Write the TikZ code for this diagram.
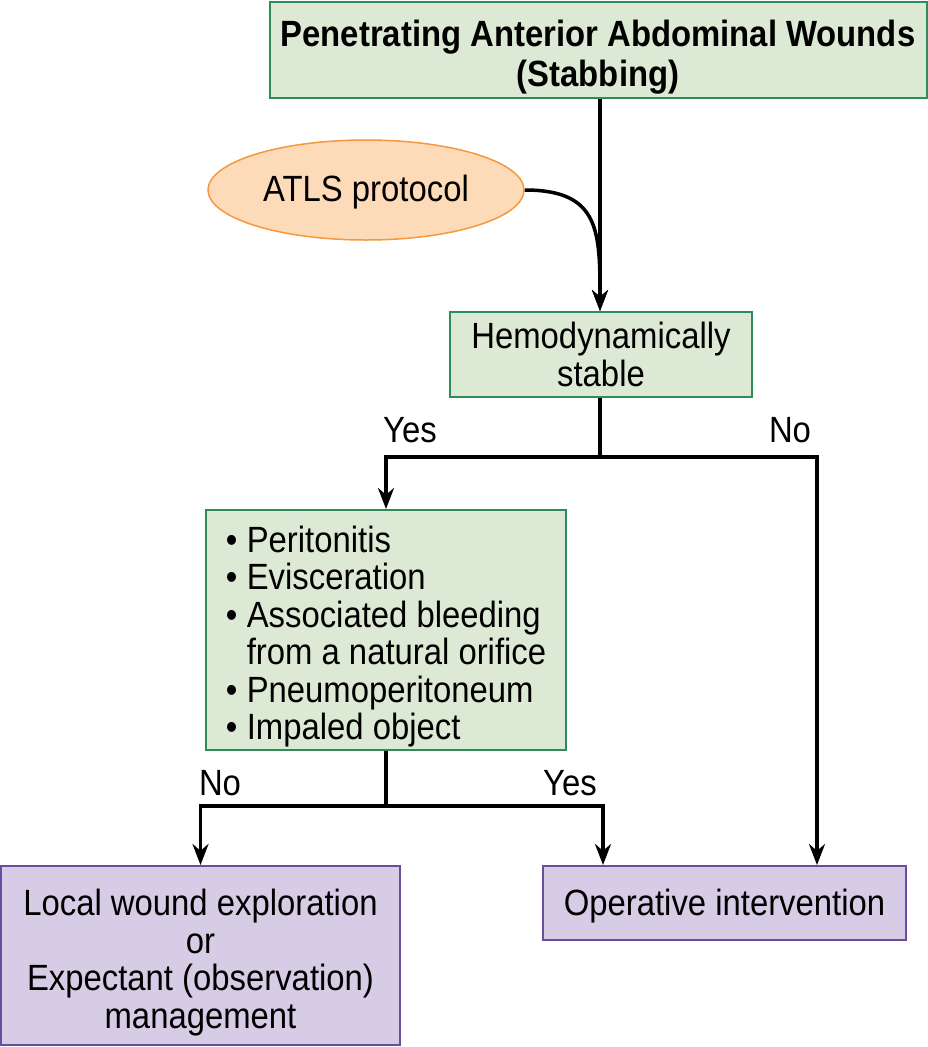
\documentclass[tikz,border=0pt]{standalone}
\usepackage{fontspec}
\setmainfont{Liberation Sans}[FakeStretch=0.9]
\usetikzlibrary{positioning}
\usetikzlibrary{arrows.meta}
\usetikzlibrary{shapes.geometric}
\definecolor{boxgreen}{RGB}{220,233,212}
\definecolor{edgegreen}{RGB}{46,140,90}
\definecolor{ovalfill}{RGB}{253,219,184}
\definecolor{ovaledge}{RGB}{245,152,62}
\definecolor{boxlilac}{RGB}{214,204,229}
\definecolor{edgelilac}{RGB}{105,78,160}
\newcommand{\itm}{\makebox[21pt][l]{\textbullet}}

\begin{document}
\begin{tikzpicture}[x=1pt, y=-1pt, every node/.style={font=\fontsize{36.5}{37.5}\selectfont},
    greenbox/.style={draw=edgegreen, fill=boxgreen, line width=2pt, inner sep=0pt, align=center},
    lilacbox/.style={draw=edgelilac, fill=boxlilac, line width=2pt, inner sep=0pt, align=center},
    link/.style={line width=3.5pt},
    conn/.style={line width=3.5pt, -{Stealth[length=21pt,width=16pt]}}]
    \useasboundingbox (0,0) rectangle (928,1047);

    \node[greenbox, minimum width=657pt, minimum height=96pt, font=\bfseries\fontsize{36.5}{37.5}\selectfont] (wounds) at (598,50) {\rule{0pt}{41pt}Penetrating Anterior Abdominal Wounds\\[2pt](Stabbing)};
    \node[ellipse, draw=ovaledge, fill=ovalfill, line width=1.5pt, minimum width=316pt, minimum height=100pt] (atls) at (366,190) {\rule{0pt}{30pt}ATLS protocol};
    \node[greenbox, minimum width=302pt, minimum height=85pt] (hemo) at (601,354.5) {Hemodynamically\\stable};
    \node[greenbox, minimum width=360pt, minimum height=240pt, align=left] (signs) at (386,630) {\rule{0pt}{40pt}\itm Peritonitis\\\itm Evisceration\\\itm Associated bleeding\\\hspace*{21pt}from a natural orifice\\\itm Pneumoperitoneum\\\itm Impaled object};
    \node[lilacbox, minimum width=399pt, minimum height=179pt] (local) at (200.5,955.5) {\rule{0pt}{41pt}Local wound exploration\\or\\Expectant (observation)\\management};
    \node[lilacbox, minimum width=363pt, minimum height=74pt] (oper) at (724.5,903) {\rule{0pt}{32pt}Operative intervention};

    \node (yes1) at (410,430) {Yes};
    \node (no1) at (790,430) {No};
    \node (no2) at (220,783) {No};
    \node (yes2) at (570,783) {Yes};

    \coordinate (split1) at (600,457);
    \coordinate (split2) at (signs.south |- 0,806);

    \draw[conn] (wounds.south -| split1) -- (hemo.north -| split1);
    \draw[conn] (atls.east) .. controls +(75,0) and +(0,-80) .. (hemo.north -| split1);
    \draw[link] (hemo.south -| split1) -- (split1);
    \draw[conn] (split1) -| (signs.north);
    \draw[conn] (split1) -| ([xshift=92.5pt]oper.north);
    \draw[link] (signs.south) -- (split2);
    \draw[conn] (split2) -| (local.north);
    \draw[conn] (split2) -| ([xshift=-121.5pt]oper.north);
\end{tikzpicture}
\end{document}
